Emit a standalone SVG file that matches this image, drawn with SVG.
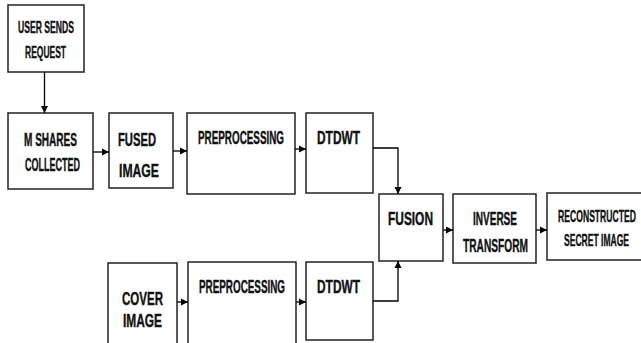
<svg xmlns="http://www.w3.org/2000/svg" width="641" height="343" viewBox="0 0 641 343">
<defs>
<marker id="ah" viewBox="0 0 10 10" refX="10" refY="5" markerWidth="7" markerHeight="8" markerUnits="userSpaceOnUse" orient="auto">
<path d="M0,0 L10,5 L0,10 z" fill="#000"/>
</marker>
<style>
.b{fill:#fff;stroke:#222;stroke-width:1.5}
.t{font-family:"Liberation Sans",Arial,sans-serif;font-weight:bold;font-size:18px;fill:#111;stroke:#111;stroke-width:0.4;text-anchor:middle}
.s{font-size:16px}
.c{fill:none;stroke:#000;stroke-width:1.3;marker-end:url(#ah)}
</style>
</defs>
<rect width="641" height="343" fill="#fff"/>
<g id="n1"><rect class="b" x="8" y="5" width="76" height="67"/>
<text class="t s" transform="translate(46,33) scale(0.538,1)">USER SENDS</text>
<text class="t s" transform="translate(45.5,58) scale(0.53,1)">REQUEST</text></g>
<g id="n2"><rect class="b" x="8" y="113" width="85" height="76"/>
<text class="t" transform="translate(50.5,146) scale(0.558,1)">M SHARES</text>
<text class="t" transform="translate(52.5,171) scale(0.5,1)">COLLECTED</text></g>
<g id="n3"><rect class="b" x="109" y="113" width="64" height="75"/>
<text class="t" transform="translate(137,146) scale(0.623,1)">FUSED</text>
<text class="t" transform="translate(139,177) scale(0.678,1)">IMAGE</text></g>
<g id="n4"><rect class="b" x="187" y="113" width="108" height="81"/>
<text class="t" transform="translate(241,144) scale(0.548,1)">PREPROCESSING</text></g>
<g id="n5"><rect class="b" x="306" y="113" width="67" height="80"/>
<text class="t" transform="translate(338.5,144) scale(0.662,1)">DTDWT</text></g>
<g id="n6"><rect class="b" x="379" y="194" width="64" height="67"/>
<text class="t" transform="translate(410.5,225) scale(0.662,1)">FUSION</text></g>
<g id="n7"><rect class="b" x="453" y="194" width="83" height="69"/>
<text class="t" transform="translate(495,225) scale(0.557,1)">INVERSE</text>
<text class="t" transform="translate(495.5,252) scale(0.565,1)">TRANSFORM</text></g>
<g id="n8"><rect class="b" x="547" y="193" width="100" height="67"/>
<text class="t s" transform="translate(597,222) scale(0.538,1)">RECONSTRUCTED</text>
<text class="t s" transform="translate(596.5,246) scale(0.534,1)">SECRET IMAGE</text></g>
<g id="n9"><rect class="b" x="108" y="263" width="69" height="90"/>
<text class="t" transform="translate(142.5,305) scale(0.64,1)">COVER</text>
<text class="t" transform="translate(142.5,327) scale(0.661,1)">IMAGE</text></g>
<g id="n10"><rect class="b" x="188" y="262" width="108" height="90"/>
<text class="t" transform="translate(242,293) scale(0.548,1)">PREPROCESSING</text></g>
<g id="n11"><rect class="b" x="306" y="262" width="67" height="78"/>
<text class="t" transform="translate(338.5,293) scale(0.662,1)">DTDWT</text></g>
<g id="connectors">
<path class="c" d="M44.5,72 V113"/>
<path class="c" d="M93,152 H109"/>
<path class="c" d="M173,151 H187"/>
<path class="c" d="M295,149 H306"/>
<path class="c" d="M373,148 H398 V194"/>
<path class="c" d="M443,230 H453"/>
<path class="c" d="M536,230 H547"/>
<path class="c" d="M177,302 H188"/>
<path class="c" d="M296,302 H306"/>
<path class="c" d="M373,301 H398 V261"/>
</g>
</svg>
